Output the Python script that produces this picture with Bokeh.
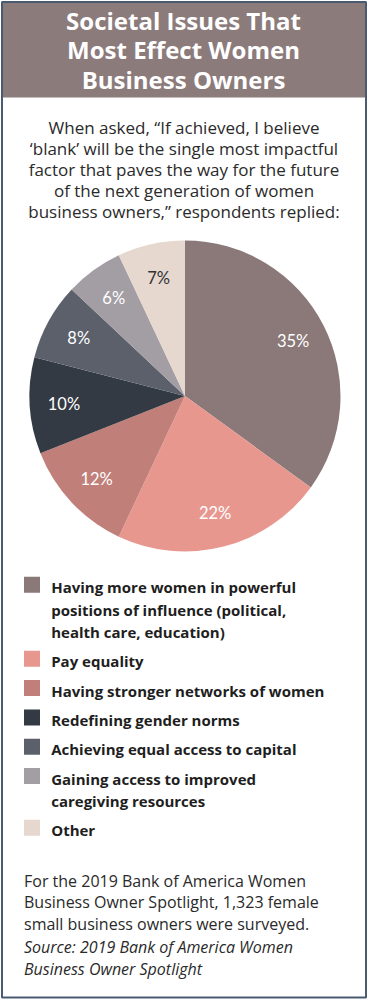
import math
from bokeh.plotting import figure
from bokeh.models import Range1d, ColumnDataSource
from bokeh.core.properties import value
from bokeh.embed import file_html
from bokeh.resources import INLINE

# ---------------- data ----------------
title_lines = ["Societal Issues That", "Most Effect Women", "Business Owners"]
subtitle_lines = [
    "When asked, \u201cIf achieved, I believe",
    "\u2018blank\u2019 will be the single most impactful",
    "factor that paves the way for the future",
    "of the next generation of women",
    "business owners,\u201d respondents replied:",
]
categories = [
    "Having more women in powerful positions of influence (political, health care, education)",
    "Pay equality",
    "Having stronger networks of women",
    "Redefining gender norms",
    "Achieving equal access to capital",
    "Gaining access to improved caregiving resources",
    "Other",
]
legend_lines = [
    ["Having more women in powerful", "positions of influence (political,", "health care, education)"],
    ["Pay equality"],
    ["Having stronger networks of women"],
    ["Redefining gender norms"],
    ["Achieving equal access to capital"],
    ["Gaining access to improved", "caregiving resources"],
    ["Other"],
]
values = [35, 22, 12, 10, 8, 6, 7]
pct_labels = ["35%", "22%", "12%", "10%", "8%", "6%", "7%"]
footer_lines = [
    "For the 2019 Bank of America Women",
    "Business Owner Spotlight,  1,323 female",
    "small business owners were surveyed.",
]
source_lines = [
    "Source: 2019 Bank of America Women",
    "Business Owner Spotlight",
]

# ---------------- styles ----------------
colors = ["#8b7979", "#e8978f", "#c17f7a", "#333a43", "#5b606b", "#a39da4", "#e6d7cf"]
label_colors = ["white", "white", "white", "white", "white", "white", "#333333"]
header_color = "#8c7b7b"
text_color = "#2a2a2a"
BODY = value("Open Sans")
LBL = value("Lato")

W, H = 368, 1000
def Y(ref):  # page (top-down) coordinate -> data coordinate
    return H - ref

p = figure(width=W, height=H, x_range=Range1d(0, W), y_range=Range1d(0, H),
           output_backend="svg", toolbar_location=None, min_border=0,
           x_axis_location=None, y_axis_location=None)
p.grid.visible = False
p.outline_line_color = None
p.background_fill_color = "white"
p.border_fill_color = "white"

# frame border
p.quad(left=1.5, right=365.5, top=Y(1.5), bottom=Y(997), fill_color="white",
       line_color="#4a5a70", line_width=2)

# header band
p.quad(left=2.5, right=364.5, top=Y(2.5), bottom=Y(97), fill_color=header_color, line_color=None)

# title
p.text(x=[183] * len(title_lines), y=[Y(19.5 + i * 29.5) for i in range(len(title_lines))],
       text=title_lines, text_font=BODY, text_font_size="24px", text_font_style="bold",
       text_color="white", text_align="center", text_baseline="alphabetic")

# subtitle
p.text(x=[183.5] * len(subtitle_lines), y=[Y(127.0 + i * 21.1) for i in range(len(subtitle_lines))],
       text=subtitle_lines, text_font=BODY, text_font_size="17px",
       text_color=text_color, text_align="center", text_baseline="alphabetic")

# pie
cx, cy, R = 184.5, Y(395.5), 155.5
total = float(sum(values))
starts, ends, lx, ly = [], [], [], []
cum = 0.0
for v in values:
    a0 = math.pi / 2 - 2 * math.pi * cum / total
    a1 = math.pi / 2 - 2 * math.pi * (cum + v) / total
    mid = (a0 + a1) / 2
    starts.append(a0)
    ends.append(a1)
    lx.append(cx + 0.78 * R * math.cos(mid))
    ly.append(cy + 0.78 * R * math.sin(mid))
    cum += v

src = ColumnDataSource(dict(start=starts, end=ends, color=colors, cat=categories, val=values))
p.wedge(x=cx, y=cy, radius=R, start_angle="start", end_angle="end", direction="clock",
        fill_color="color", line_color=None, source=src)

p.text(x=lx, y=ly, text=pct_labels, text_font=LBL, text_font_size="16.5px",
       text_font_style="normal", text_color=label_colors, text_align="center",
       text_baseline="middle")

# legend
line_gap, item_gap = 22.4, 29.3
base = 591.7
shift = 5.0
sq_l, sq_r, sq_b, sq_t = [], [], [], []
tx, ty, tt = [], [], []
for i, lines in enumerate(legend_lines):
    sq_l.append(23.5); sq_r.append(39.5)
    sq_b.append(Y(base + 0.5)); sq_t.append(Y(base - 15.5))
    for j, ln in enumerate(lines):
        tx.append(50.7); ty.append(Y(base - shift + j * line_gap)); tt.append(ln)
    base += (len(lines) - 1) * line_gap + item_gap

p.quad(left=sq_l, right=sq_r, bottom=sq_b, top=sq_t, fill_color=colors, line_color=None)
p.text(x=tx, y=ty, text=tt, text_font=BODY, text_font_size="15px", text_font_style="bold",
       text_color="#1e1e1e", text_align="left", text_baseline="alphabetic")

# footer
fy = 880.0
p.text(x=[23.5] * len(footer_lines), y=[Y(fy + i * 21.6) for i in range(len(footer_lines))],
       text=footer_lines, text_font=BODY, text_font_size="16px",
       text_color=text_color, text_align="left", text_baseline="alphabetic")
sy = 946.0
p.text(x=[23.5] * len(source_lines), y=[Y(sy + i * 22.3) for i in range(len(source_lines))],
       text=source_lines, text_font=BODY, text_font_size="16px", text_font_style="italic",
       text_color=text_color, text_align="left", text_baseline="alphabetic")

open("out.html", "w").write(file_html(p, INLINE))
